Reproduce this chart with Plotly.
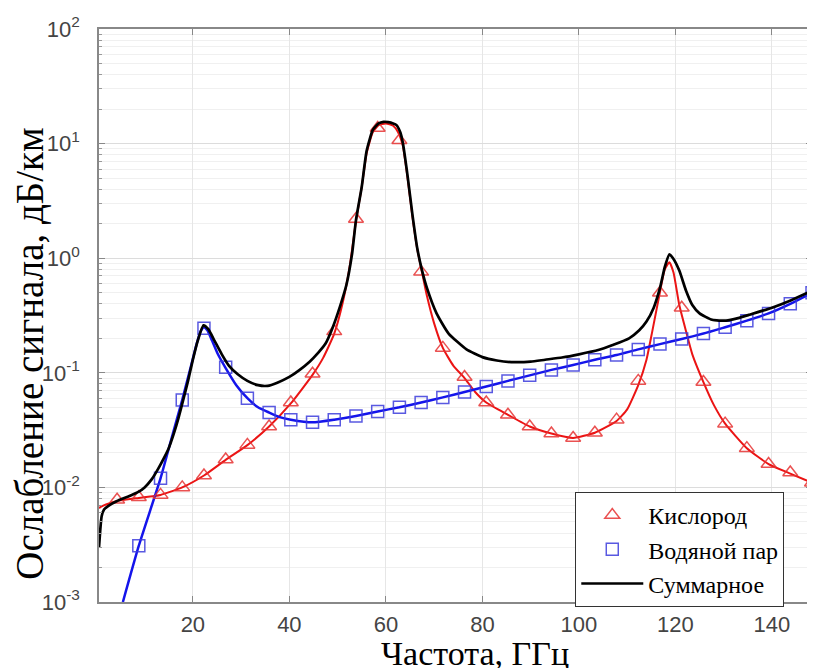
import plotly.graph_objects as go

# ---------------- data ----------------
# marker frequencies, GHz
f_marks = [4.3, 8.8, 13.3, 17.8, 22.3, 26.8, 31.3, 35.8, 40.3, 44.8, 49.3, 53.8,
           58.3, 62.8, 67.3, 71.8, 76.3, 80.8, 85.3, 89.8, 94.3, 98.8, 103.3,
           107.8, 112.3, 116.8, 121.3, 125.8, 130.3, 134.8, 139.3, 143.8, 148.3]
oxygen_marks = [0.0078, 0.0082, 0.0086, 0.0100, 0.0127, 0.0175, 0.0235, 0.034,
                0.055, 0.098, 0.23, 2.2, 13.7, 10.7, 0.76, 0.165, 0.092, 0.055,
                0.043, 0.034, 0.0295, 0.027, 0.030, 0.039, 0.085, 0.50, 0.37,
                0.083, 0.036, 0.022, 0.016, 0.0135, 0.011]
water_marks = [None, 0.0031, 0.012, 0.058, 0.245, 0.112, 0.060, 0.045, 0.039,
               0.037, 0.039, 0.042, 0.046, 0.050, 0.055, 0.061, 0.068, 0.076,
               0.085, 0.095, 0.106, 0.117, 0.13, 0.143, 0.16, 0.178, 0.197,
               0.22, 0.25, 0.285, 0.33, 0.40, 0.50]

# oxygen curve
f_oxygen = [0.55, 1, 2, 4.3, 8.8, 13.3, 17.8, 22.3, 26.8, 31.3, 35.8, 40.3, 44.8,
            47, 49.3, 51, 52.5, 53.8, 55, 56, 57.3, 58.5, 60, 61.5, 62.5, 63.5,
            64.5, 65.5, 66.5, 67.5, 68.5, 70, 71.8, 74, 76.3, 78.5, 80.8, 85.3,
            89.8, 94.3, 98.8, 103.3, 107.8, 110, 112.3, 114, 115.2, 116.6, 117.8,
            118.75, 119.6, 120.8, 122.2, 123.5, 125.8, 128, 130.3, 134.8, 139.3,
            143.8, 148.3]
oxygen = [0.0066, 0.0068, 0.0071, 0.0076, 0.0081, 0.0086, 0.0100, 0.0127, 0.0174,
          0.0234, 0.034, 0.054, 0.096, 0.135, 0.22, 0.40, 0.85, 2.1, 4.2, 8.2,
          12.6, 14.5, 15.0, 14.3, 12.6, 9.6, 5.0, 2.3, 1.2, 0.75, 0.47, 0.27,
          0.165, 0.115, 0.09, 0.068, 0.055, 0.043, 0.034, 0.0295, 0.027, 0.030,
          0.038, 0.048, 0.078, 0.13, 0.23, 0.46, 0.80, 0.92, 0.75, 0.39, 0.23,
          0.145, 0.083, 0.052, 0.036, 0.022, 0.016, 0.0132, 0.011]

# water vapour curve
f_water = [5.5, 8.8, 13.3, 15.5, 17.8, 19.5, 20.8, 21.6, 22.3, 23.0, 24.0, 25.2,
           26.8, 29.0, 31.3, 33.5, 35.8, 38.0, 40.3, 44.8, 49.3, 53.8, 58.3, 62.8,
           67.3, 71.8, 76.3, 80.8, 85.3, 89.8, 94.3, 98.8, 103.3, 107.8, 112.3,
           116.8, 121.3, 125.8, 130.3, 134.8, 139.3, 143.8, 148.3]
water = [0.001, 0.0031, 0.012, 0.026, 0.058, 0.11, 0.18, 0.23, 0.25, 0.235, 0.19,
         0.145, 0.11, 0.078, 0.060, 0.050, 0.045, 0.041, 0.039, 0.037, 0.039,
         0.042, 0.046, 0.050, 0.055, 0.061, 0.068, 0.076, 0.085, 0.095, 0.106,
         0.117, 0.13, 0.143, 0.16, 0.178, 0.197, 0.22, 0.25, 0.285, 0.33, 0.40,
         0.50]

# total curve
f_total = [0.55, 0.8, 1.1, 1.6, 2.5, 4.3, 6.5, 8.8, 10, 11.5, 12.8, 14, 15, 16, 17,
           18, 19, 20, 21, 22.2, 23.2, 24.5, 26, 27.5, 29.3, 31.3, 33.5, 35.5,
           37.5, 40, 42, 44.2, 46, 47.5, 49, 50.5, 51.8, 53, 53.8, 55, 56, 57.3,
           58.5, 59.5, 60.5, 61.5, 62.2, 63, 63.5, 64.5, 65.5, 66.5, 67.5, 68.5,
           70.5, 73, 76.7, 80, 83, 86, 90, 93, 96.5, 100, 104, 107, 110.4, 112.5,
           114, 115.5, 116.8, 117.8, 118.75, 119.5, 120.8, 122.2, 123.5, 125,
           127.6, 130.5, 133, 135.2, 140, 144, 148.3]
total = [0.0030, 0.0042, 0.0056, 0.0064, 0.0069, 0.0076, 0.0083, 0.0092, 0.0100,
         0.0118, 0.0145, 0.018, 0.022, 0.029, 0.040, 0.058, 0.085, 0.13, 0.19,
         0.26, 0.24, 0.19, 0.145, 0.115, 0.097, 0.085, 0.078, 0.077, 0.082, 0.092,
         0.105, 0.125, 0.15, 0.18, 0.25, 0.38, 0.58, 1.1, 2.15, 4.2, 8.6, 13.2,
         15.0, 15.5, 15.4, 15.0, 14.5, 12.5, 10.2, 5.2, 2.4, 1.22, 0.78, 0.55,
         0.33, 0.22, 0.16, 0.137, 0.128, 0.124, 0.125, 0.13, 0.136, 0.145, 0.158,
         0.175, 0.20, 0.235, 0.28, 0.37, 0.55, 0.84, 1.08, 1.0, 0.78, 0.52, 0.39,
         0.33, 0.29, 0.285, 0.30, 0.32, 0.37, 0.43, 0.52]

y_tickvals = [1e-3, 1e-2, 1e-1, 1, 10, 100]
y_ticktext = ["10<sup>-3</sup>", "10<sup>-2</sup>", "10<sup>-1</sup>",
              "10<sup>0</sup>", "10<sup>1</sup>", "10<sup>2</sup>"]
x_tickvals = [20, 40, 60, 80, 100, 120, 140]

legend_names = ["Кислород", "Водяной пар", "Суммарное"]
x_title = "Частота, ГГц"
y_title = "Ослабление сигнала, дБ/км"

# ---------------- styles ----------------
RED = "rgb(235,20,20)"
BLUE = "rgb(20,20,235)"
SERIF = "Liberation Serif, Times New Roman, serif"
SANS = "Liberation Sans, Arial, sans-serif"

fig = go.Figure()
fig.add_trace(go.Scatter(x=f_oxygen, y=oxygen, mode="lines", showlegend=False,
                         line=dict(color=RED, width=2, shape="spline", smoothing=0.5),
                         hoverinfo="skip"))
fig.add_trace(go.Scatter(x=f_water, y=water, mode="lines", showlegend=False,
                         line=dict(color=BLUE, width=2.5, shape="spline", smoothing=0.5),
                         hoverinfo="skip"))
fig.add_trace(go.Scatter(x=f_marks, y=oxygen_marks, mode="markers", name=legend_names[0],
                         marker=dict(symbol="triangle-up-open", size=13,
                                     color="rgba(230,50,50,0.85)",
                                     line=dict(width=1.5))))
fig.add_trace(go.Scatter(x=f_marks, y=water_marks, mode="markers", name=legend_names[1],
                         marker=dict(symbol="square-open", size=12,
                                     color="rgba(60,60,220,0.85)",
                                     line=dict(width=1.5))))
fig.add_trace(go.Scatter(x=f_total, y=total, mode="lines", name=legend_names[2],
                         line=dict(color="black", width=2.7, shape="spline", smoothing=0.5)))

# page body adds an 8px offset; figure is sized so the plot lands where the reference's does
L, R, T, B = 91, 3, 21, 66
fig.update_layout(
    width=807, height=660,
    margin=dict(l=L, r=R, t=T, b=B, autoexpand=False),
    paper_bgcolor="white", plot_bgcolor="white",
    showlegend=True,
    legend=dict(x=0.668, y=0.192, xanchor="left", yanchor="top",
                bgcolor="white", bordercolor="#333", borderwidth=1,
                font=dict(family=SERIF, size=24, color="black"),
                itemwidth=62, tracegroupgap=0),
    xaxis=dict(range=[0.55, 148.3], tickvals=x_tickvals, automargin=False,
               showline=True, linecolor="#888", linewidth=1.5, mirror="ticks",
               ticks="inside", ticklen=6, tickcolor="#888",
               showgrid=True, gridcolor="#e6e6e6", gridwidth=1, zeroline=False,
               tickfont=dict(family=SANS, size=22, color="#444"),
               ticklabelstandoff=2),
    yaxis=dict(type="log", range=[-3, 2], tickvals=y_tickvals, ticktext=y_ticktext,
               automargin=False,
               showline=True, linecolor="#888", linewidth=1.5, mirror="ticks",
               ticks="inside", ticklen=6, tickcolor="#888",
               showgrid=True, gridcolor="#dcdcdc", gridwidth=1, zeroline=False,
               tickfont=dict(family=SANS, size=22, color="#444"),
               ticklabelstandoff=13,
               minor=dict(dtick="D1", ticks="inside", ticklen=3, tickcolor="#999",
                          showgrid=True, gridcolor="#f0f0f0", gridwidth=1)),
    annotations=[
        dict(text=x_title, xref="paper", yref="paper", x=0.527, y=-0.090,
             xanchor="center", yanchor="middle", showarrow=False,
             font=dict(family=SERIF, size=34, color="black")),
        dict(text=y_title, xref="paper", yref="paper", x=-0.097, y=0.433,
             xanchor="center", yanchor="middle", showarrow=False, textangle=-90,
             font=dict(family=SERIF, size=39, color="black")),
    ],
)

fig.write_html("out.html")
